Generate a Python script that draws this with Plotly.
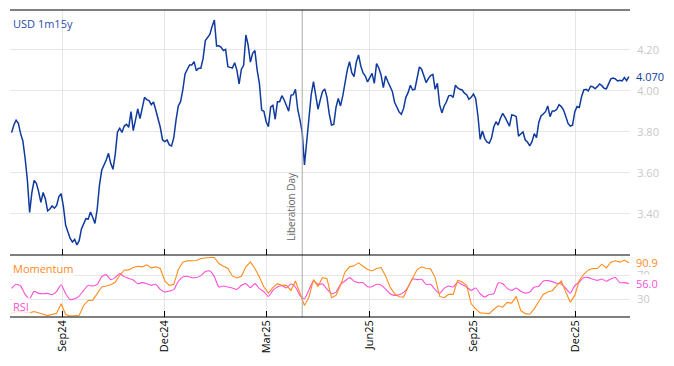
import pandas as pd
import plotly.graph_objects as go

# ---------------- data ----------------
usd_start = "2024-07-18"
usd_step = "2D"
usd = [3.797, 3.834, 3.857, 3.842, 3.792, 3.756, 3.672, 3.566, 3.408, 3.504,
       3.564, 3.550, 3.509, 3.457, 3.505, 3.473, 3.415, 3.424, 3.439, 3.428,
       3.442, 3.485, 3.499, 3.436, 3.345, 3.314, 3.281, 3.263, 3.276, 3.249,
       3.270, 3.327, 3.354, 3.377, 3.375, 3.410, 3.384, 3.354, 3.423, 3.541,
       3.613, 3.637, 3.663, 3.696, 3.647, 3.618, 3.691, 3.800, 3.818, 3.798,
       3.829, 3.837, 3.823, 3.899, 3.807, 3.859, 3.912, 3.865, 3.920, 3.969,
       3.958, 3.953, 3.933, 3.946, 3.907, 3.870, 3.823, 3.761, 3.753, 3.761,
       3.737, 3.732, 3.772, 3.859, 3.927, 3.948, 4.005, 4.083, 4.102, 4.127,
       4.127, 4.143, 4.099, 4.111, 4.111, 4.159, 4.246, 4.259, 4.276, 4.315,
       4.346, 4.220, 4.221, 4.213, 4.197, 4.203, 4.119, 4.115, 4.112, 4.138,
       4.102, 4.034, 4.106, 4.125, 4.273, 4.224, 4.141, 4.184, 4.197, 4.102,
       4.037, 3.907, 3.901, 3.850, 3.826, 3.922, 3.930, 3.862, 3.948, 3.948,
       3.977, 3.956, 3.924, 3.901, 3.979, 3.982, 4.008, 3.911, 3.859, 3.798,
       3.639, 3.753, 3.834, 3.982, 4.046, 3.976, 3.911, 3.956, 3.997, 4.010,
       3.969, 3.888, 3.834, 3.837, 3.920, 3.963, 3.927, 3.976, 4.046, 4.102,
       4.143, 4.089, 4.070, 4.140, 4.176, 4.122, 4.088, 4.073, 4.044, 4.062,
       4.086, 4.037, 4.133, 4.112, 4.078, 4.016, 4.073, 4.046, 4.024, 3.998,
       3.945, 3.924, 3.898, 3.886, 3.915, 3.969, 3.992, 4.028, 4.005, 4.008,
       4.070, 4.117, 4.106, 4.076, 4.041, 4.060, 4.075, 4.081, 4.008, 4.037,
       3.932, 3.893, 3.927, 3.946, 3.976, 3.979, 3.969, 4.028, 4.015, 4.008,
       4.005, 3.989, 3.982, 3.959, 3.969, 3.985, 3.964, 3.878, 3.764, 3.805,
       3.769, 3.751, 3.745, 3.769, 3.823, 3.850, 3.834, 3.867, 3.891, 3.872,
       3.847, 3.829, 3.883, 3.881, 3.875, 3.780, 3.790, 3.800, 3.761, 3.751,
       3.732, 3.753, 3.792, 3.772, 3.846, 3.878, 3.888, 3.899, 3.927, 3.875,
       3.902, 3.902, 3.911, 3.933, 3.924, 3.907, 3.875, 3.842, 3.829, 3.833,
       3.899, 3.924, 3.920, 3.972, 4.005, 4.008, 4.000, 4.023, 4.021, 4.011,
       4.021, 4.034, 4.026, 4.013, 4.010, 4.034, 4.059, 4.063, 4.059, 4.049,
       4.052, 4.049, 4.065, 4.050, 4.070]

ind_start = "2024-07-18"
ind_step = "4D"
momentum = [6.3, 8.6, 9.2, 8.0, 6.9, 9.2, 6.3, 4.6, 2.4, 4.6,
            6.3, 22.1, 4.1, 1.8, 2.4, 3.0, 19.3, 27.7, 28.3, 40.1,
            50.3, 52.0, 54.2, 58.2, 70.0, 78.5, 79.0, 83.0, 85.2, 84.1,
            87.5, 82.4, 84.1, 81.3, 60.4, 53.1, 54.8, 79.6, 92.0, 94.2,
            94.8, 94.8, 98.2, 99.3, 99.9, 99.9, 89.7, 85.2, 81.3, 68.9,
            65.5, 68.3, 84.1, 92.5, 81.3, 67.2, 50.3, 40.1, 49.2, 55.9,
            53.1, 53.1, 44.6, 60.4, 39.0, 19.3, 33.4, 62.7, 51.4, 66.1,
            64.4, 32.3, 36.2, 53.1, 75.6, 84.1, 85.8, 90.8, 85.2, 79.6,
            77.3, 81.3, 83.0, 68.9, 50.3, 39.0, 34.0, 33.4, 50.3, 66.1,
            79.6, 84.1, 81.3, 80.7, 66.1, 34.5, 32.3, 37.9, 37.9, 61.5,
            58.7, 53.1, 22.1, 13.7, 6.9, 6.3, 5.7, 12.6, 18.8, 16.5,
            24.4, 23.2, 34.5, 10.8, 5.7, 4.6, 13.7, 26.1, 37.9, 41.8,
            44.1, 53.1, 60.4, 41.8, 24.9, 36.2, 61.5, 71.7, 79.0, 81.3,
            81.3, 88.6, 82.4, 92.0, 94.2, 92.0, 95.4, 90.9]
rsi = [48.0, 54.8, 52.0, 37.9, 30.6, 43.0, 39.6, 39.0, 39.6, 37.3,
       43.0, 54.2, 39.0, 29.4, 30.6, 35.1, 44.6, 53.1, 52.0, 54.8,
       67.7, 71.1, 62.7, 66.1, 72.8, 67.7, 64.9, 62.1, 55.9, 57.6,
       55.9, 53.1, 54.8, 46.3, 41.8, 43.5, 45.8, 59.9, 67.2, 68.3,
       66.1, 66.1, 69.4, 76.2, 77.3, 67.7, 50.3, 52.0, 50.3, 48.6,
       46.3, 53.1, 55.9, 49.2, 55.9, 47.5, 42.4, 34.5, 44.6, 50.3,
       52.5, 48.6, 55.4, 50.3, 36.2, 30.6, 45.8, 60.4, 54.8, 55.4,
       46.9, 39.0, 41.8, 54.8, 60.4, 66.1, 59.9, 57.6, 57.6, 50.8,
       50.8, 54.8, 53.7, 46.9, 39.0, 36.2, 37.3, 41.3, 50.3, 63.8,
       62.7, 63.2, 54.8, 54.8, 45.8, 39.6, 48.0, 52.0, 50.3, 58.2,
       54.2, 50.3, 44.6, 48.6, 39.0, 33.4, 37.9, 39.0, 57.0, 55.9,
       48.0, 44.6, 48.6, 43.0, 40.1, 41.8, 50.3, 51.4, 60.4, 61.0,
       59.3, 56.5, 55.4, 48.0, 40.1, 52.5, 58.7, 66.1, 66.1, 63.2,
       61.5, 63.8, 59.9, 63.8, 66.1, 57.6, 57.6, 56.0]

x_ticks = ["2024-09-01", "2024-12-01", "2025-03-01", "2025-06-01", "2025-09-01", "2025-12-01"]
usd_ticks = [3.40, 3.60, 3.80, 4.00, 4.20]
ind_ticks = [30, 70]
event_date = "2025-04-02"
event_label = "Liberation Day"
series_name = "USD 1m15y"

# ---------------- styling ----------------
BLUE = "#0f3a9e"
LABELBLUE = "#2a4cad"
ORANGE = "#ff8c1a"
MAGENTA = "#ff4fd8"
GRID = "#e6e6e6"
TICKGRAY = "#c8c8c8"
FONT = "Open Sans"

usd_dates = pd.date_range(usd_start, periods=len(usd), freq=usd_step)
ind_dates = pd.date_range(ind_start, periods=len(momentum), freq=ind_step)
x_range = ["2024-07-16 14:00", "2026-01-18"]

fig = go.Figure()
fig.add_trace(go.Scatter(x=usd_dates, y=usd, mode="lines", line=dict(color=BLUE, width=1.5),
                         xaxis="x", yaxis="y", showlegend=False, hoverinfo="skip"))
fig.add_trace(go.Scatter(x=ind_dates, y=rsi, mode="lines",
                         line=dict(color=MAGENTA, width=1.1, shape="spline", smoothing=0.6),
                         xaxis="x2", yaxis="y2", showlegend=False, hoverinfo="skip"))
fig.add_trace(go.Scatter(x=ind_dates, y=momentum, mode="lines", line=dict(color=ORANGE, width=1.1),
                         xaxis="x2", yaxis="y2", showlegend=False, hoverinfo="skip"))

split = 0.202
common_x = dict(range=x_range, type="date", tickvals=x_ticks, ticks="inside", ticklen=6,
                tickcolor="black", showline=False, showgrid=True, gridcolor=GRID, zeroline=False)

# the page is shown with an 8px body margin, so the margins compensate for it
fig.update_layout(
    width=674, height=366,
    margin=dict(l=2, r=52, t=2, b=57, autoexpand=False),
    paper_bgcolor="white", plot_bgcolor="white",
    font=dict(family=FONT, size=11, color="black"),
    xaxis=dict(domain=[0, 1], anchor="y", showticklabels=False, **common_x),
    xaxis2=dict(domain=[0, 1], anchor="y2", tickformat="%b%y", tickangle=-90,
                tickfont=dict(size=11, color="black"), **common_x),
    yaxis=dict(domain=[split, 1], anchor="x", side="right", range=[3.20, 4.395],
               tickvals=usd_ticks, tickformat=".2f", showgrid=True, gridcolor=GRID,
               zeroline=False, showline=False, ticks="outside", ticklen=4, tickcolor="rgba(0,0,0,0)",
               tickfont=dict(size=11, color=TICKGRAY)),
    yaxis2=dict(domain=[0, split], anchor="x2", side="right", range=[0, 104],
                tickvals=ind_ticks, showgrid=True, gridcolor=GRID, zeroline=False, showline=False,
                ticks="outside", ticklen=4, tickcolor="rgba(0,0,0,0)",
                tickfont=dict(size=11, color=TICKGRAY)),
)

fig.add_shape(type="line", xref="x", yref="paper", x0=event_date, x1=event_date, y0=0, y1=1,
              line=dict(color="#aaaaaa", width=1))
for yy in (1, split, 0):
    fig.add_shape(type="line", xref="paper", yref="paper", x0=0, x1=1, y0=yy, y1=yy,
                  line=dict(color="black", width=1.2))

annots = [
    dict(text=series_name, xref="paper", yref="paper", x=0, y=1, xanchor="left", yanchor="top",
         xshift=1, yshift=-4, showarrow=False, font=dict(size=11, color=LABELBLUE)),
    dict(text=event_label, xref="x", yref="y", x=event_date, y=3.258, xanchor="right", yanchor="bottom",
         textangle=-90, xshift=-3, showarrow=False, font=dict(size=10, color="#666666")),
    dict(text=f"{usd[-1]:.3f}", xref="paper", yref="y", x=1, y=usd[-1], xanchor="left",
         xshift=4, showarrow=False, font=dict(size=11, color=BLUE)),
    dict(text=f"{momentum[-1]:.1f}", xref="paper", yref="y2", x=1, y=momentum[-1], xanchor="left",
         xshift=4, showarrow=False, font=dict(size=11, color=ORANGE)),
    dict(text=f"{rsi[-1]:.1f}", xref="paper", yref="y2", x=1, y=rsi[-1], xanchor="left",
         xshift=4, showarrow=False, font=dict(size=11, color=MAGENTA), bgcolor="white"),
    dict(text="Momentum", xref="paper", yref="y2", x=0, y=82, xanchor="left", yanchor="middle",
         xshift=1, showarrow=False, font=dict(size=11, color=ORANGE), bgcolor="rgba(255,255,255,0.75)"),
    dict(text="RSI", xref="paper", yref="y2", x=0, y=18, xanchor="left", yanchor="middle",
         xshift=1, showarrow=False, font=dict(size=11, color=MAGENTA), bgcolor="rgba(255,255,255,0.75)"),
]
fig.update_layout(annotations=annots)

fig.write_html("out.html")
